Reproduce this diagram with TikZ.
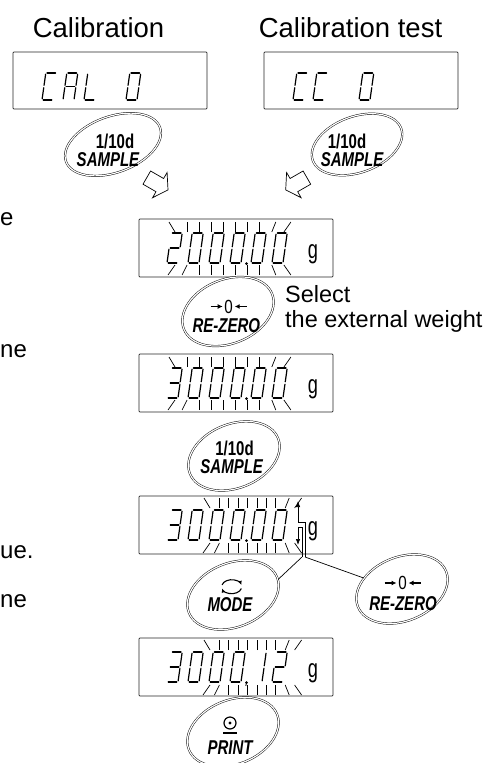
\documentclass[tikz,border=0pt]{standalone}
\usepackage{fontspec}
\setmainfont{Liberation Sans}
\usetikzlibrary{arrows.meta,shapes.geometric}
\newcommand\btnfont{\fontsize{20}{20}\selectfont\bfseries}
\newcommand\nar[1]{\scalebox{0.75}[1]{#1}}
\newcommand\sdigit[4]{%
  \begin{scope}[shift={(#1,#2)},xslant=0.14,yscale=-1]
    \coordinate (a1) at (1.2,#3); \coordinate (a2) at (9.8,#3);
    \coordinate (b1) at (11,{#3-1.2}); \coordinate (b2) at (11,{#3/2+1.2});
    \coordinate (c1) at (11,{#3/2-1.2}); \coordinate (c2) at (11,1.2);
    \coordinate (d1) at (1.2,0); \coordinate (d2) at (9.8,0);
    \coordinate (e1) at (0,1.2); \coordinate (e2) at (0,{#3/2-1.2});
    \coordinate (f1) at (0,{#3/2+1.2}); \coordinate (f2) at (0,{#3-1.2});
    \coordinate (g1) at (1.2,{#3/2}); \coordinate (g2) at (9.8,{#3/2});
    \foreach \s in {#4}{\draw[segline] (\s1) -- (\s2);}
  \end{scope}}
\newcommand\flashmarks[6]{%
  \foreach \i in {0,...,9}{%
    \pgfmathsetmacro\xx{#1+\i*#2}%
    \pgfmathsetmacro\ot{(\i==0)*(-6)+(\i==8)*4+(\i==9)*7}%
    \pgfmathsetmacro\ob{(\i==0)*(-7)+(\i==1)*(-5)+(\i==8)*4+(\i==9)*7}%
    \draw[flashline] (\xx,#3) -- ({\xx+\ot},#4);
    \draw[flashline] (\xx,#5) -- ({\xx+\ob},#6);
  }}
\begin{document}
\begin{tikzpicture}[x=1pt,y=-1pt,
  disp/.style={draw=black!85, line width=0.7pt, minimum width=194pt, minimum height=58pt, inner sep=0pt, rounded corners=0.8pt},
  btn/.style={ellipse, draw, line width=0.45pt, double, double distance=1.2pt, minimum width=95pt, minimum height=64pt, inner sep=0pt},
  segline/.style={line width=1.2pt, line cap=round},
  flashline/.style={line width=0.7pt},
  conn/.style={line width=0.7pt},
  hollow/.style={draw, line width=0.7pt, line join=miter, fill=white},
  title/.style={font=\fontsize{27.5}{27.5}\selectfont, inner sep=0pt, anchor=base},
  side/.style={font=\fontsize{24}{24}\selectfont, inner sep=0pt, anchor=base west},
  note/.style={font=\fontsize{23.5}{23.5}\selectfont, inner sep=0pt, anchor=base west},
  bt/.style={font=\btnfont, inner sep=0pt},
  zero/.style={font=\fontsize{19}{19}\selectfont, inner sep=0pt},
  zarrow/.style={line width=1.3pt, -{Latex[length=5pt,width=5pt]}},
  gunit/.style={font=\fontsize{26}{26}\selectfont, inner sep=0pt, anchor=base}
]
\useasboundingbox (0,0) rectangle (491,763);

% titles
\node[title] (tcal) at (98.5,37) {Calibration};
\node[title] (tcc) at (350.5,37) {Calibration test};

% side texts (cut at left edge in the reference)
\node[side] (s1) at (0,225) {e};
\node[side] (s2) at (0,357) {ne};
\node[side] (s3) at (0,558) {ue.};
\node[side] (s4) at (0,607) {ne};

% displays
\node[disp, minimum height=57pt] (dcal) at (110,80.5) {};
\node[disp, minimum height=57pt] (dcc) at (361,80.5) {};
\node[disp] (d2) at (236,248) {};
\node[disp] (d3) at (236,383) {};
\node[disp] (d4) at (236,525) {};
\node[disp] (d5) at (236,667) {};

% top display texts
\sdigit{42}{100}{27}{a,d,e,f}
\sdigit{63}{100}{27}{a,b,c,e,f,g}
\sdigit{84}{100}{27}{d,e,f}
\sdigit{126}{100}{27}{a,b,c,d,e,f}
\sdigit{293}{100}{27}{a,d,e,f}
\sdigit{313}{100}{27}{a,d,e,f}
\sdigit{359}{100}{27}{a,b,c,d,e,f}

% display 2: 2000.00
\sdigit{167}{263}{30}{a,b,g,e,d}
\sdigit{188}{263}{30}{a,b,c,d,e,f}
\sdigit{209}{263}{30}{a,b,c,d,e,f}
\sdigit{230}{263}{30}{a,b,c,d,e,f}
\sdigit{251}{263}{30}{a,b,c,d,e,f}
\sdigit{272}{263}{30}{a,b,c,d,e,f}
\fill (246.5,263.5) circle (1.5);
\node[gunit] (g2) at (313,258.5) {\scalebox{0.7}[1]{g}};
\flashmarks{175}{12.1}{232}{222}{265}{275}

% display 3: 3000.00
\sdigit{167}{398}{30}{a,b,g,c,d}
\sdigit{188}{398}{30}{a,b,c,d,e,f}
\sdigit{209}{398}{30}{a,b,c,d,e,f}
\sdigit{230}{398}{30}{a,b,c,d,e,f}
\sdigit{251}{398}{30}{a,b,c,d,e,f}
\sdigit{272}{398}{30}{a,b,c,d,e,f}
\fill (246.5,398.5) circle (1.5);
\node[gunit] (g3) at (313,393.5) {\scalebox{0.7}[1]{g}};
\flashmarks{175}{12.1}{367}{357}{400}{410}

% display 4: 3000.00 with arrows
\sdigit{167}{540}{30}{a,b,g,c,d}
\sdigit{188}{540}{30}{a,b,c,d,e,f}
\sdigit{209}{540}{30}{a,b,c,d,e,f}
\sdigit{230}{540}{30}{a,b,c,d,e,f}
\sdigit{251}{540}{30}{a,b,c,d,e,f}
\sdigit{272}{540}{30}{a,b,c,d,e,f}
\fill (246.5,540.5) circle (1.5);
\node[gunit] (g4) at (313,535.5) {\scalebox{0.7}[1]{g}};
\flashmarks{210}{9.4}{508}{498}{543}{553}

% display 5: 3000.12
\sdigit{167}{682}{30}{a,b,g,c,d}
\sdigit{188}{682}{30}{a,b,c,d,e,f}
\sdigit{209}{682}{30}{a,b,c,d,e,f}
\sdigit{230}{682}{30}{a,b,c,d,e,f}
\sdigit{251}{682}{30}{b,c}
\sdigit{272}{682}{30}{a,b,g,e,d}
\fill (246.5,682.5) circle (1.5);
\draw[line width=0.8pt] (246.5,682.5) -- (245.8,686);
\node[gunit] (g5) at (313,677.5) {\scalebox{0.7}[1]{g}};
\flashmarks{210}{9.4}{650}{640}{685}{695}

% hollow arrows
\draw[hollow] (143,184.2) -- (150.6,171) -- (163.6,178.5) -- (167.1,172.5) -- (168,189.9) -- (152.6,197.7) -- (156,191.7) -- cycle;
\draw[hollow] (310.7,184.2) -- (303.1,171) -- (290.1,178.5) -- (286.6,172.5) -- (285.7,189.9) -- (301.1,197.7) -- (297.7,191.7) -- cycle;

% buttons
\node[btn, minimum width=100pt, minimum height=56pt, rotate=20] (bcal) at (113,144.5) {};
\node[btn, minimum width=94pt, minimum height=56pt, rotate=20] (bcc) at (357,144.5) {};
\node[btn, rotate=22] (brz1) at (228,311.5) {};
\node[btn, rotate=22] (bs3) at (234,456) {};
\node[btn, rotate=22] (bmode) at (233,595) {};
\node[btn, rotate=22] (brz2) at (402,589) {};
\node[btn, rotate=22] (bprint) at (233,732) {};

% button labels
\node[bt] (l1a) at (115,141) {\nar{1/10d}};
\node[bt] (l1b) at (108,160) {\nar{\itshape SAMPLE}};
\node[bt] (l2a) at (347,141) {\nar{1/10d}};
\node[bt] (l2b) at (352,160) {\nar{\itshape SAMPLE}};
\node[bt] (l3a) at (234.5,448) {\nar{1/10d}};
\node[bt] (l3b) at (231.7,467) {\nar{\itshape SAMPLE}};

\node[zero] (z1) at (228.7,306.5) {\scalebox{0.8}[1]{0}};
\draw[zarrow] ([xshift=-18pt]z1.center) -- ([xshift=-6pt]z1.center);
\draw[zarrow] ([xshift=18pt]z1.center) -- ([xshift=6pt]z1.center);
\node[bt] (rz1t) at (226.3,326) {\nar{\itshape RE-ZERO}};

\node[zero] (z2) at (402.5,583) {\scalebox{0.8}[1]{0}};
\draw[zarrow] ([xshift=-18pt]z2.center) -- ([xshift=-6pt]z2.center);
\draw[zarrow] ([xshift=18pt]z2.center) -- ([xshift=6pt]z2.center);
\node[bt] (rz2t) at (403,603.5) {\nar{\itshape RE-ZERO}};

\coordinate (msym) at (231.7,586.7);
\draw[line width=1.1pt, -{Latex[length=4pt,width=4pt]}] ([shift={(195:10 and 7)}]msym) arc[start angle=195, end angle=345, x radius=10, y radius=7];
\draw[line width=1.1pt, -{Latex[length=4pt,width=4pt]}] ([shift={(15:10 and 7)}]msym) arc[start angle=15, end angle=165, x radius=10, y radius=7];
\node[bt] (modet) at (230,605) {\nar{\itshape MODE}};

\node[circle, draw, line width=1.2pt, minimum size=12pt, inner sep=0pt] (psym) at (230,723) {};
\fill (psym.center) circle (1.7);
\draw[line width=1.4pt] ([shift={(-7,10)}]psym.center) -- ([shift={(7,10)}]psym.center);
\node[bt] (printt) at (230,748) {\nar{\itshape PRINT}};

% select text
\node[note] (sel1) at (285,302) {Select};
\node[note] (sel2) at (285,327) {the external weight};

% up/down arrows and connectors in display 4
\coordinate (upt) at (298,501);
\coordinate (upb) at (298,522);
\coordinate (upc) at (305,522);
\coordinate (jr) at (305,557);
\coordinate (dnt) at (298,527);
\coordinate (dnc) at (302,527);
\coordinate (jl) at (302,557);
\coordinate (dnh) at (298,545);
\draw[conn, -{Latex[length=6pt,width=4.5pt]}] (jr) -- (upc) -- (upb) -- (upt);
\draw[conn, -{Latex[length=6pt,width=4.5pt]}] (jl) -- (dnc) -- (dnt) -- (dnh);
\draw[conn] (jl) -- (bmode.-3);
\draw[conn] (jr) -- (brz2.142);
\end{tikzpicture}
\end{document}
